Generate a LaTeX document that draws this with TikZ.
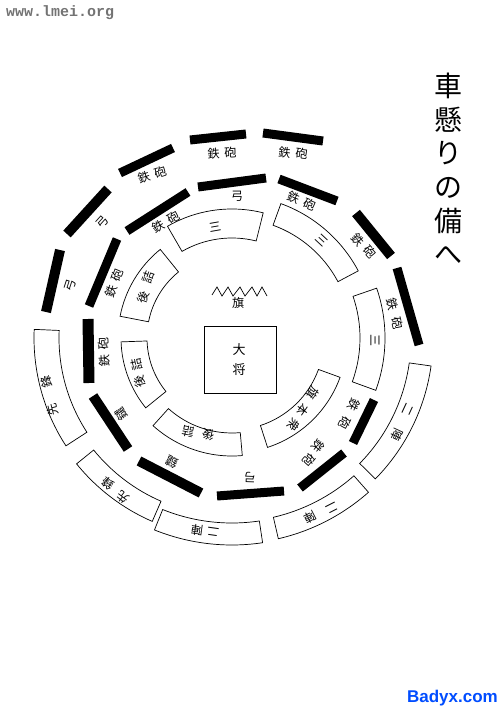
\documentclass[tikz,border=0pt]{standalone}
\usepackage{fontspec}
\newfontfamily\jp{Noto Sans CJK JP}
\newfontfamily\wmono{Liberation Mono}
\newfontfamily\wsans{Liberation Sans}
\usetikzlibrary{calc}
\newcommand\ringbox[4]{\draw[rbox] ($(C)+(#1:#3pt)$) arc[start angle=#1, end angle=#2, radius=#3pt] -- ($(C)+(#2:#4pt)$) arc[start angle=#2, end angle=#1, radius=#4pt] -- cycle;}
\begin{document}
\begin{tikzpicture}[x=1pt,y=-1pt,
  bar/.style={line width=9pt, black},
  rbox/.style={draw=black, line width=0.7pt},
  lab/.style={font=\jp\fontsize{12}{12}\selectfont, inner sep=0pt},
]
\useasboundingbox (0,0) rectangle (500,711);
\coordinate (C) at (232,338);
% ---------- outer ring bars
\draw[bar, line width=10pt] (60,250) -- (46,312);
\draw[bar, line width=10pt] (67,234) -- (108,189);
\draw[bar] (120,173) -- (173,148);
\draw[bar] (190,140) -- (246,134);
\draw[bar] (263,133) -- (323,141);
% ---------- outer ring boxes
\ringbox{-44.5}{-8}{179}{201}
\ringbox{-77}{-48.5}{184}{206}
\ringbox{-112}{-81.5}{185}{207}
\ringbox{-141}{-113.5}{178}{200}
\ringbox{177.5}{213}{173}{198}
% ---------- middle ring bars
\draw[bar, line width=11pt] (88,319) -- (89,383);
\draw[bar] (117,239) -- (89,306);
\draw[bar] (127,231) -- (188,192);
\draw[bar] (198,187) -- (266,178);
\draw[bar] (279,179) -- (337,201);
\draw[bar, line width=10pt] (356,213) -- (391,256);
\draw[bar] (397,268) -- (419,345);
\draw[bar] (374,400) -- (353,443);
\draw[bar] (344,453) -- (300,488);
\draw[bar] (217,496) -- (284,491);
\draw[bar, line width=10pt] (139,461) -- (201,493);
\draw[bar, line width=10pt] (93,396) -- (128,449);
% ---------- inner ring boxes
\ringbox{76}{120}{100}{129}
\ringbox{28}{70}{120}{143}
\ringbox{-20}{19}{128}{153}
\ringbox{-72}{-20}{92}{115}
\ringbox{-132}{-85}{95}{118}
\ringbox{182}{219}{85}{111}
\ringbox{129}{169}{85}{114}
% ---------- outer labels
\node[lab, rotate=72] (o1) at (70,285) {弓};
\node[lab, rotate=48] (o2) at (102,222) {弓};
\node[lab, rotate=18] (o3) at (152,175) {鉄\hspace{5pt}砲};
\node[lab, rotate=3] (o4) at (222,153) {鉄\hspace{5pt}砲};
\node[lab, rotate=-6] (o5) at (293,153) {鉄\hspace{5pt}砲};
\node[lab, rotate=-115] (o6a) at (408,410) {二};
\node[lab, rotate=-115] (o6b) at (397,435) {陣};
\node[lab, rotate=-153] (o7a) at (332,508) {二};
\node[lab, rotate=-153] (o7b) at (310,517) {陣};
\node[lab, rotate=172] (o8a) at (213,532) {二};
\node[lab, rotate=172] (o8b) at (197,530) {陣};
\node[lab, rotate=142] (o9a) at (123,497) {先};
\node[lab, rotate=142] (o9b) at (108,483) {鋒};
\node[lab, rotate=104] (o10a) at (53,410) {先};
\node[lab, rotate=104] (o10b) at (47,382) {鋒};
% ---------- middle labels
\node[lab, rotate=93] (m1) at (104,352) {鉄\hspace{5pt}砲};
\node[lab, rotate=70] (m2) at (114,283) {鉄\hspace{5pt}砲};
\node[lab, rotate=30] (m3) at (166,222) {鉄\hspace{5pt}砲};
\node[lab, rotate=0] (m4) at (237,196) {弓};
\node[lab, rotate=-22] (m5) at (302,201) {鉄\hspace{5pt}砲};
\node[lab, rotate=-48] (m6) at (364,246) {鉄\hspace{5pt}砲};
\node[lab, rotate=-76] (m7) at (395,314) {鉄\hspace{8pt}砲};
\node[lab, rotate=-116] (m8a) at (354,405) {鉄};
\node[lab, rotate=-116] (m8b) at (345,423) {砲};
\node[lab, rotate=-130] (m9a) at (318,446) {鉄};
\node[lab, rotate=-130] (m9b) at (309,460) {砲};
\node[lab, rotate=178] (m10) at (250,477) {弓};
\node[lab, rotate=154] (m11) at (172,462) {鑓};
\node[lab, rotate=124] (m12) at (121,414) {鑓};
% ---------- inner labels
\node[lab, rotate=10] (i1) at (215,227) {三};
\node[lab, rotate=-43] (i2) at (322,240) {三};
\node[lab, rotate=-90] (i3) at (375,340) {三};
\node[lab, rotate=-125] (i4a) at (313,393) {旗};
\node[lab, rotate=-125] (i4b) at (303,410) {本};
\node[lab, rotate=-125] (i4c) at (294,425) {衆};
\node[lab, rotate=168] (i5a) at (208,435) {後};
\node[lab, rotate=168] (i5b) at (188,432) {詰};
\node[lab, rotate=102] (i6a) at (140,382) {後};
\node[lab, rotate=102] (i6b) at (137,365) {詰};
\node[lab, rotate=70] (i7a) at (143,297) {後};
\node[lab, rotate=70] (i7b) at (148,277) {詰};
% ---------- centre
\draw[line width=0.7pt] (212,295) -- (217,287) -- (222,296) -- (228,287) -- (233,296) -- (240,287) -- (245,296) -- (252,287) -- (257,296) -- (262,287) -- (267,296);
\node[lab] (flag) at (238,303) {旗};
\node[draw, line width=0.7pt, minimum width=72pt, minimum height=67pt, inner sep=0pt] (gen) at (240,359.5) {};
\node[lab, font=\jp\fontsize{13}{13}\selectfont] (g1) at (239,350) {大};
\node[lab, font=\jp\fontsize{13}{13}\selectfont] (g2) at (239,370) {将};
% ---------- title
\node[font=\jp\fontsize{28}{33.6}\selectfont, align=center, inner sep=0pt] (title) at (448,169) {車\\懸\\り\\の\\備\\へ};
% ---------- watermarks
\node[anchor=west, inner sep=0pt, text=black!55, font=\wmono\bfseries\fontsize{15}{15}\selectfont] (wm1) at (6,13) {www.lmei.org};
\node[anchor=east, inner sep=0pt, text=blue!70!cyan, font=\wsans\bfseries\fontsize{17}{17}\selectfont] (wm2) at (498,698) {Badyx.com};
\end{tikzpicture}
\end{document}
